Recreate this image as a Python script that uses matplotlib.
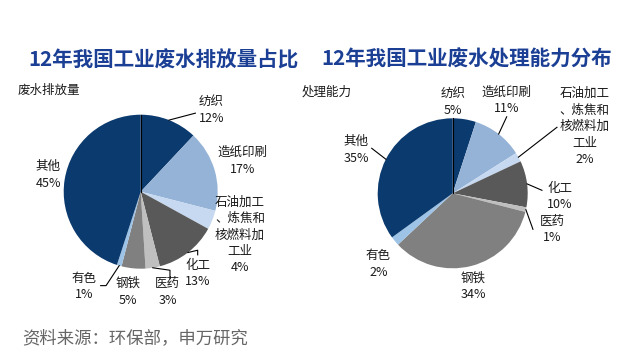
import numpy as np
import matplotlib.pyplot as plt

plt.rcParams['font.family'] = ['Noto Sans CJK SC', 'DejaVu Sans']

# data
industries = ["纺织", "造纸印刷", "石油加工\n、炼焦和\n核燃料加\n工业", "化工", "医药", "钢铁", "有色", "其他"]
discharge = [12, 17, 4, 13, 3, 5, 1, 45]
capacity = [5, 11, 2, 10, 1, 34, 2, 35]

colors = ["#0b3a6e", "#95b3d7", "#c6d9f1", "#595959", "#bfbfbf", "#808080", "#9dc3e6", "#0b3a6e"]

W, H = 621, 351
S = 2.2  # axis half-range in pie radii

# label centres (in pie radii) and leader-line bends
left_pos = [(0.92, 1.06), (1.32, 0.40), (1.29, -0.56), (0.74, -1.06),
            (0.35, -1.30), (-0.16, -1.30), (-0.74, -1.23), (-1.20, 0.22)]
left_lead = {0: [(0.71, 1.02)], 3: [(0.74, -0.76), (0.74, -0.82)],
             4: [(0.38, -1.02), (0.38, -1.13)], 6: [(-0.45, -1.22), (-0.52, -1.22)]}
right_pos = [(0.0, 1.22), (0.72, 1.24), (1.76, 0.89), (1.43, -0.04),
             (1.33, -0.48), (0.27, -1.24), (-0.99, -0.94), (-1.29, 0.58)]
right_lead = {1: [(0.72, 1.02)], 2: [(1.39, 0.88)], 3: [(1.19, 0.04)],
              4: [(1.07, -0.48)], 7: [(-1.08, 0.60)]}


def pie_axes(fig, cx, cy, r):
    # cx, cy in pixels from top-left, r in pixels
    ax = fig.add_axes([(cx - S * r) / W, (H - cy - S * r) / H, 2 * S * r / W, 2 * S * r / H])
    ax.patch.set_alpha(0)
    return ax


def draw_pie(ax, values, pos, lead):
    wedges, _ = ax.pie(values, colors=colors, startangle=90, counterclock=False,
                       radius=1, wedgeprops=dict(linewidth=0))
    ax.plot([0, 0], [0, 1], color="black", lw=0.8)
    for i, (w, v) in enumerate(zip(wedges, values)):
        ax.text(pos[i][0], pos[i][1], f"{industries[i]}\n{v}%", ha="center", va="center",
                multialignment="center", fontsize=9, linespacing=1.35, color="#1a1a1a")
        if i in lead:
            mid = np.deg2rad((w.theta1 + w.theta2) / 2)
            pts = [(np.cos(mid), np.sin(mid))] + lead[i]
            xs, ys = zip(*pts)
            ax.plot(xs, ys, color="black", lw=0.8, clip_on=False)
    ax.set_xlim(-S, S)
    ax.set_ylim(-S, S)
    ax.set_aspect("equal")
    ax.axis("off")


fig = plt.figure(figsize=(W / 100, H / 100), dpi=100)

ax1 = pie_axes(fig, 140.7, 191.7, 77)
draw_pie(ax1, discharge, left_pos, left_lead)
ax2 = pie_axes(fig, 452.7, 193.3, 75)
draw_pie(ax2, capacity, right_pos, right_lead)

title_color = "#1b3f94"
fig.text(163 / W, 1 - 60 / H, "12年我国工业废水排放量占比", ha="center", va="center",
         fontsize=14.8, fontweight="bold", color=title_color)
fig.text(467 / W, 1 - 59 / H, "12年我国工业废水处理能力分布", ha="center", va="center",
         fontsize=14.8, fontweight="bold", color=title_color)
fig.text(18 / W, 1 - 90 / H, "废水排放量", ha="left", va="center", fontsize=9, color="#1a1a1a")
fig.text(302 / W, 1 - 92 / H, "处理能力", ha="left", va="center", fontsize=9, color="#1a1a1a")
fig.text(22 / W, 1 - 338 / H, "资料来源：环保部，申万研究", ha="left", va="center",
         fontsize=12.5, color="#666666")

fig.savefig("out.png", dpi=100)
